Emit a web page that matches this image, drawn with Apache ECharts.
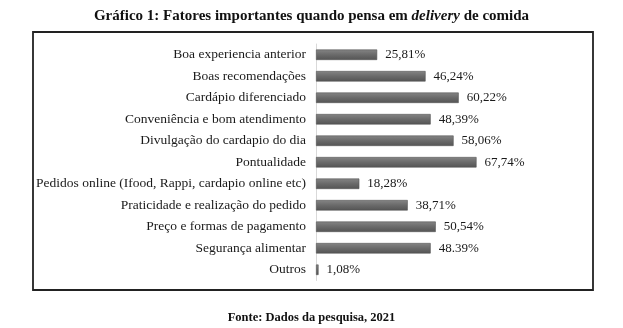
<!DOCTYPE html>
<html><head><meta charset="utf-8">
<script src="https://cdn.jsdelivr.net/npm/echarts@6/dist/echarts.min.js"></script>
<style>html,body{margin:0;padding:0;background:#fff}#c{width:623px;height:328px}</style>
</head><body><div id="c"></div>
<script>
const categories = [
  "Boa experiencia anterior",
  "Boas recomendações",
  "Cardápio diferenciado",
  "Conveniência e bom atendimento",
  "Divulgação do cardapio do dia",
  "Pontualidade",
  "Pedidos online (Ifood, Rappi, cardapio online etc)",
  "Praticidade e realização do pedido",
  "Preço e formas de pagamento",
  "Segurança alimentar",
  "Outros"
];
const values = [25.81, 46.24, 60.22, 48.39, 58.06, 67.74, 18.28, 38.71, 50.54, 48.39, 1.08];
const valueLabels = ["25,81%", "46,24%", "60,22%", "48,39%", "58,06%", "67,74%", "18,28%", "38,71%", "50,54%", "48.39%", "1,08%"];

const chart = echarts.init(document.getElementById('c'), null, {renderer: 'canvas'});
const serif = '"Liberation Serif", "DejaVu Serif", serif';
chart.setOption({
  animation: false,
  title: {
    text: '{b|Gráfico 1: Fatores importantes quando pensa em }{i|delivery}{b| de comida}',
    left: 'center', top: 4,
    textStyle: {
      rich: {
        b: {fontFamily: serif, fontWeight: 'bold', fontSize: 15, color: '#111'},
        i: {fontFamily: serif, fontWeight: 'bold', fontStyle: 'italic', fontSize: 15, color: '#111'}
      }
    }
  },
  graphic: [
    {type: 'rect', shape: {x: 33, y: 32, width: 560, height: 258}, style: {fill: 'none', stroke: '#222', lineWidth: 1.8}},
    {type: 'text', left: 'center', top: 311, style: {text: 'Fonte: Dados da pesquisa, 2021', fontFamily: serif, fontWeight: 'bold', fontSize: 12.5, fill: '#111'}}
  ],
  grid: {left: 316, top: 44, width: 237, height: 236.5, containLabel: false},
  xAxis: {type: 'value', min: 0, max: 100, show: false},
  yAxis: {
    type: 'category', data: categories, inverse: true,
    axisLine: {show: true, lineStyle: {color: '#d9d9d9', width: 1}},
    axisTick: {show: false},
    axisLabel: {fontFamily: serif, fontSize: 13.5, color: '#1a1a1a', margin: 10}
  },
  series: [{
    type: 'bar', data: values, barWidth: 10.5,
    itemStyle: {
      color: new echarts.graphic.LinearGradient(0, 0, 0, 1, [
        {offset: 0, color: '#858585'}, {offset: 0.5, color: '#6a6a6a'}, {offset: 1, color: '#545454'}
      ]),
      borderColor: '#555', borderWidth: 0.6
    },
    label: {
      show: true, position: 'right', distance: 8,
      fontFamily: serif, fontSize: 13, color: '#1a1a1a',
      formatter: p => valueLabels[p.dataIndex]
    }
  }]
});
</script></body></html>
